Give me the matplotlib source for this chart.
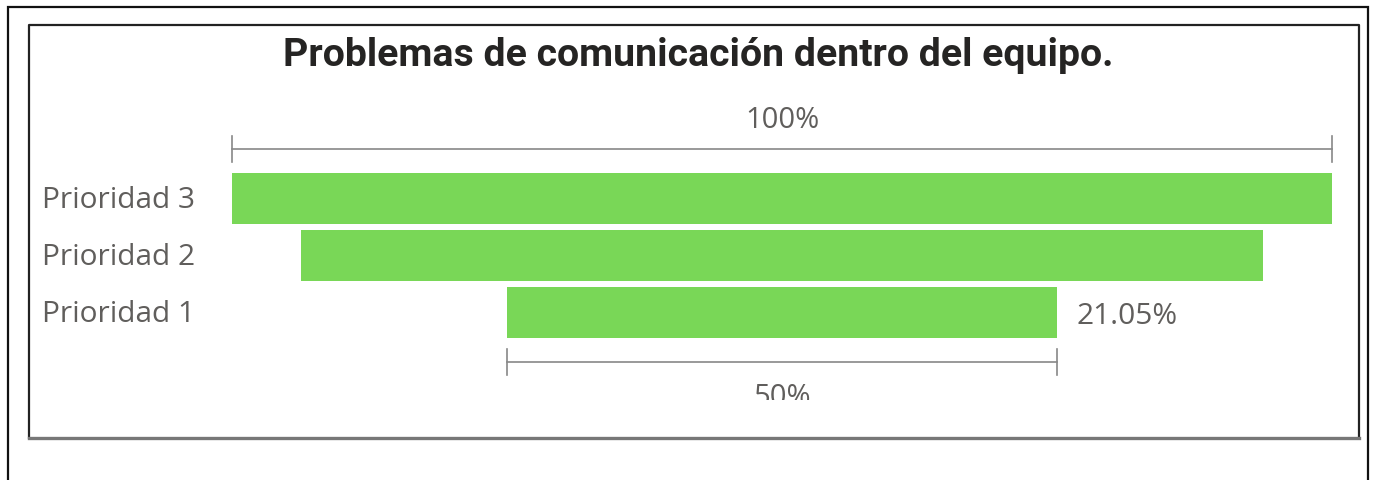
import matplotlib.pyplot as plt
from matplotlib.patches import Rectangle
from matplotlib.lines import Line2D

# datos del embudo (conteos por prioridad)
categorias = ['Prioridad 3', 'Prioridad 2', 'Prioridad 1']
conteos = [8, 7, 4]
titulo = 'Problemas de comunicación dentro del equipo.'

total = sum(conteos)
vmax = max(conteos)
anchos = [c / vmax for c in conteos]          # ancho relativo al mayor
pct_total = [100 * c / total for c in conteos]  # % del total

W, H = 1374, 481
fig = plt.figure(figsize=(W / 100, H / 100), dpi=100)

def px(x0, y0, x1, y1):
    # pixeles -> fraccion de figura [left, bottom, width, height]
    return [x0 / W, 1 - y1 / H, (x1 - x0) / W, (y1 - y0) / H]

# marcos
fig.add_artist(Rectangle((8 / W, -0.1), 1360 / W, 1 - 8 / H + 0.1,
                         transform=fig.transFigure, fill=False, ec='#111', lw=1.6))
fig.add_artist(Line2D([29 / W, 29 / W, 1359 / W, 1359 / W],
                      [1 - 439 / H, 1 - 26 / H, 1 - 26 / H, 1 - 439 / H],
                      transform=fig.transFigure, color='#222', lw=1.6))
fig.add_artist(Line2D([29 / W, 1359 / W], [1 - 439 / H, 1 - 439 / H],
                      transform=fig.transFigure, color='#777', lw=2.4))

fig.text(698 / W, 1 - 55 / H, titulo, ha='center', va='center',
         fontsize=28.3, fontweight='bold', color='#252423',
         family=['Roboto', 'DejaVu Sans'])

ax = fig.add_axes(px(232, 100, 1332, 401))
ax.set_xlim(-0.5, 0.5)
pitch = 57.0
ax.set_ylim((401 - 199) / pitch, (100 - 199) / pitch)
ax.axis('off')

y = list(range(len(categorias)))
ax.barh(y, anchos, left=[-a / 2 for a in anchos], height=51 / pitch,
        color='#79D757', edgecolor='none')

gris = '#605E5C'
for yi, cat in zip(y, categorias):
    ax.text(-0.5 - 190 / 1100, yi + 0.02, cat, ha='left', va='center', fontsize=21.5,
            color=gris, family='Open Sans', clip_on=False)

# % del total para la ultima etapa
ax.annotate(f'{pct_total[-1]:.2f}%', xy=(anchos[-1] / 2, y[-1] + 0.07),
            xytext=(14, 0), textcoords='offset points', ha='left', va='center',
            fontsize=21.5, color=gris, family='Open Sans')

# cotas de porcentaje respecto a la primera etapa
def cota(ancho, yc, ytexto, etiqueta, va):
    ax.plot([-ancho / 2, ancho / 2], [yc, yc], color='#888', lw=1.2, clip_on=False)
    for xe in (-ancho / 2, ancho / 2):
        ax.plot([xe, xe], [yc - 0.22, yc + 0.22], color='#888', lw=1.2, clip_on=False)
    ax.text(0, ytexto, etiqueta, ha='center', va=va, fontsize=21, color=gris,
            family='Open Sans', clip_on=True)

cota(anchos[0], (150 - 199) / pitch, (121 - 199) / pitch, f'{anchos[0] * 100:.0f}%', 'center')
cota(anchos[-1], (363 - 199) / pitch, (383 - 199) / pitch, f'{anchos[-1] * 100:.0f}%', 'top')

fig.savefig('out.png', dpi=100)
